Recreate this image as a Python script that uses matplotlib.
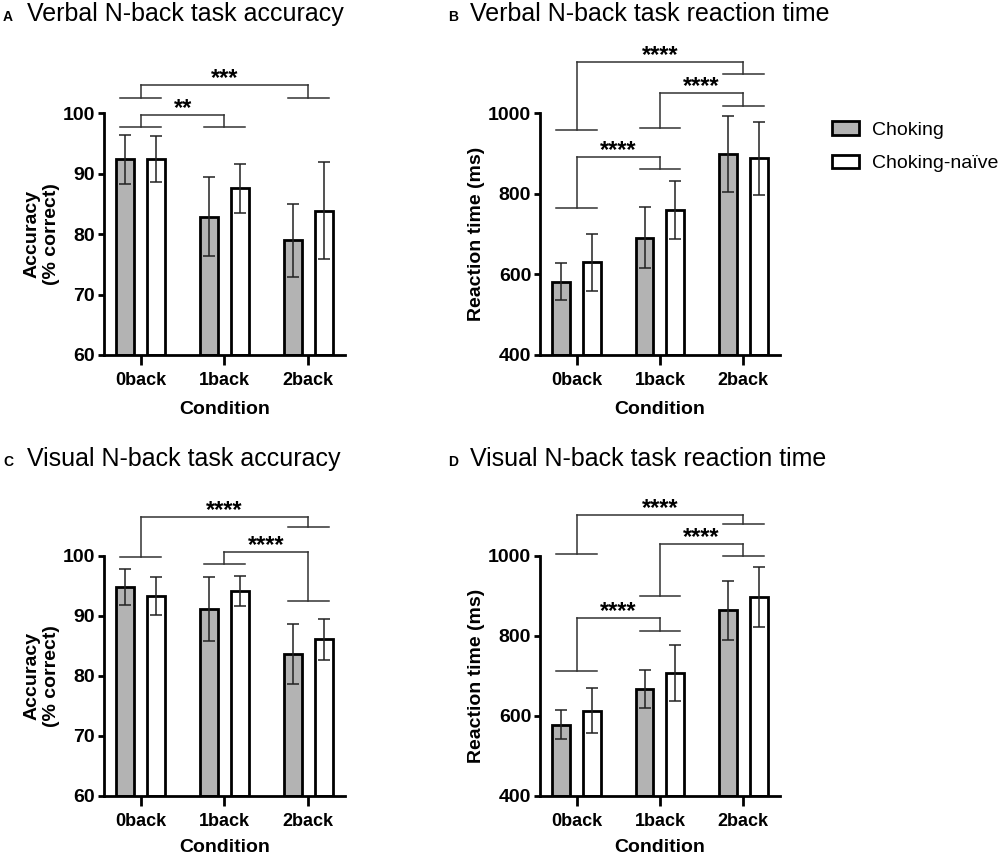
import matplotlib
matplotlib.use('Agg')
import matplotlib.pyplot as plt
from matplotlib.patches import Patch

plt.rcParams['font.family'] = ['Liberation Sans', 'DejaVu Sans']

# data
conditions = ['0back', '1back', '2back']

verbal_acc_choking = [92.4, 82.9, 79.0]
verbal_acc_choking_err = [4.1, 6.5, 6.0]
verbal_acc_naive = [92.5, 87.6, 83.9]
verbal_acc_naive_err = [3.8, 4.0, 8.0]

verbal_rt_choking = [582, 691, 900]
verbal_rt_choking_err = [46, 76, 95]
verbal_rt_naive = [630, 761, 889]
verbal_rt_naive_err = [70, 72, 91]

visual_acc_choking = [94.9, 91.2, 83.7]
visual_acc_choking_err = [3.0, 5.3, 5.0]
visual_acc_naive = [93.3, 94.2, 86.1]
visual_acc_naive_err = [3.2, 2.5, 3.4]

visual_rt_choking = [578, 667, 864]
visual_rt_choking_err = [36, 48, 73]
visual_rt_naive = [613, 708, 897]
visual_rt_naive_err = [56, 70, 75]

# significance brackets: (group1, group2, arm1, top, arm2, label)
sig_a = [(0, 1, 97.8, 99.8, 97.8, '**'),
         (0, 2, 102.6, 104.7, 102.6, '***')]
sig_b = [(0, 1, 764, 892, 863, '****'),
         (1, 2, 963, 1050, 1019, '****'),
         (0, 2, 959, 1128, 1099, '****')]
sig_c = [(1, 2, 98.7, 100.7, 92.5, '****'),
         (0, 2, 99.9, 106.5, 104.9, '****')]
sig_d = [(0, 1, 712, 844, 812, '****'),
         (1, 2, 900, 1031, 1000, '****'),
         (0, 2, 1006, 1103, 1079, '****')]

GRAY = '#b3b3b3'
W, H = 1000, 857


def ax_rect(left, top, right, bottom):
    return [left / W, 1 - bottom / H, (right - left) / W, (bottom - top) / H]


def draw_panel(ax, choking, choking_err, naive, naive_err, ylim, yticks, ylabel, sigs,
               label_x, xlabel_pad):
    x = list(range(len(conditions)))
    off = 0.185
    bw = 0.215
    xc = [i - off for i in x]
    xn = [i + off for i in x]
    ax.bar(xc, [v - ylim[0] for v in choking], bw, bottom=ylim[0], color=GRAY,
           edgecolor='black', linewidth=2.0, zorder=2)
    ax.bar(xn, [v - ylim[0] for v in naive], bw, bottom=ylim[0], color='white',
           edgecolor='black', linewidth=2.0, zorder=2)
    ax.errorbar(xc, choking, yerr=choking_err, fmt='none', ecolor='#222222',
                elinewidth=1.1, capsize=4, capthick=1.1, zorder=3)
    ax.errorbar(xn, naive, yerr=naive_err, fmt='none', ecolor='#222222',
                elinewidth=1.1, capsize=4, capthick=1.1, zorder=3)

    ax.set_xlim(-0.445, 2.44)
    ax.set_ylim(*ylim)
    ax.set_yticks(yticks)
    ax.set_xticks(x)
    ax.set_xticklabels(conditions, fontsize=13, fontweight='bold')
    for lab in ax.get_yticklabels():
        lab.set_fontsize(14)
        lab.set_fontweight('bold')
    ax.spines['top'].set_visible(False)
    ax.spines['right'].set_visible(False)
    ax.spines['left'].set_linewidth(2)
    ax.spines['bottom'].set_linewidth(2)
    ax.tick_params(axis='x', length=7, width=2, pad=5)
    ax.tick_params(axis='y', length=4, width=2, pad=2)
    ax.set_xlabel('Condition', fontsize=14, fontweight='bold', labelpad=xlabel_pad)
    ax.set_ylabel(ylabel, fontsize=14, fontweight='bold')
    ax.yaxis.set_label_coords(label_x, 0.5)

    hw = 0.245
    for g1, g2, a1, top, a2, label in sigs:
        kw = dict(color='#333333', lw=1.1, clip_on=False, zorder=4)
        ax.plot([g1 - hw, g1 + hw], [a1, a1], **kw)
        ax.plot([g1, g1], [a1, top], **kw)
        ax.plot([g1, g2], [top, top], **kw)
        ax.plot([g2, g2], [top, a2], **kw)
        ax.plot([g2 - hw, g2 + hw], [a2, a2], **kw)
        ax.text((g1 + g2) / 2, top, label, ha='center', va='baseline',
                fontsize=17, fontweight='bold', clip_on=False)


fig = plt.figure(figsize=(10, 8.57), dpi=100)

ax_a = fig.add_axes(ax_rect(103.5, 113.5, 345, 355))
ax_b = fig.add_axes(ax_rect(539.5, 113.5, 780, 355))
ax_c = fig.add_axes(ax_rect(103.5, 556, 345, 796))
ax_d = fig.add_axes(ax_rect(539.5, 556, 780, 796))

draw_panel(ax_a, verbal_acc_choking, verbal_acc_choking_err, verbal_acc_naive,
           verbal_acc_naive_err, (60, 100), [60, 70, 80, 90, 100],
           'Accuracy\n(% correct)', sig_a, -0.18, 9)
draw_panel(ax_b, verbal_rt_choking, verbal_rt_choking_err, verbal_rt_naive,
           verbal_rt_naive_err, (400, 1000), [400, 600, 800, 1000],
           'Reaction time (ms)', sig_b, -0.228, 9)
draw_panel(ax_c, visual_acc_choking, visual_acc_choking_err, visual_acc_naive,
           visual_acc_naive_err, (60, 100), [60, 70, 80, 90, 100],
           'Accuracy\n(% correct)', sig_c, -0.18, 6.5)
draw_panel(ax_d, visual_rt_choking, visual_rt_choking_err, visual_rt_naive,
           visual_rt_naive_err, (400, 1000), [400, 600, 800, 1000],
           'Reaction time (ms)', sig_d, -0.228, 6.5)

# panel titles
titles = [('A', 'Verbal N-back task accuracy', 3, 27, 21),
          ('B', 'Verbal N-back task reaction time', 448, 470, 21),
          ('C', 'Visual N-back task accuracy', 3, 27, 466),
          ('D', 'Visual N-back task reaction time', 448, 470, 466)]
for letter, title, lx, tx, by in titles:
    fig.text(lx / W, 1 - by / H, letter, fontsize=10, fontweight='bold', va='baseline')
    fig.text(tx / W, 1 - by / H, title, fontsize=18, va='baseline')

handles = [Patch(facecolor=GRAY, edgecolor='black', linewidth=2.0, label='Choking'),
           Patch(facecolor='white', edgecolor='black', linewidth=2.0, label='Choking-naïve')]
fig.legend(handles=handles, loc='upper left', bbox_to_anchor=(832 / W, 1 - 121 / H),
           frameon=False, fontsize=14, handlelength=1.4, handleheight=0.7,
           handletextpad=0.68, labelspacing=0.82, borderpad=0, borderaxespad=0)

fig.savefig('out.png', dpi=100)
plt.close()
